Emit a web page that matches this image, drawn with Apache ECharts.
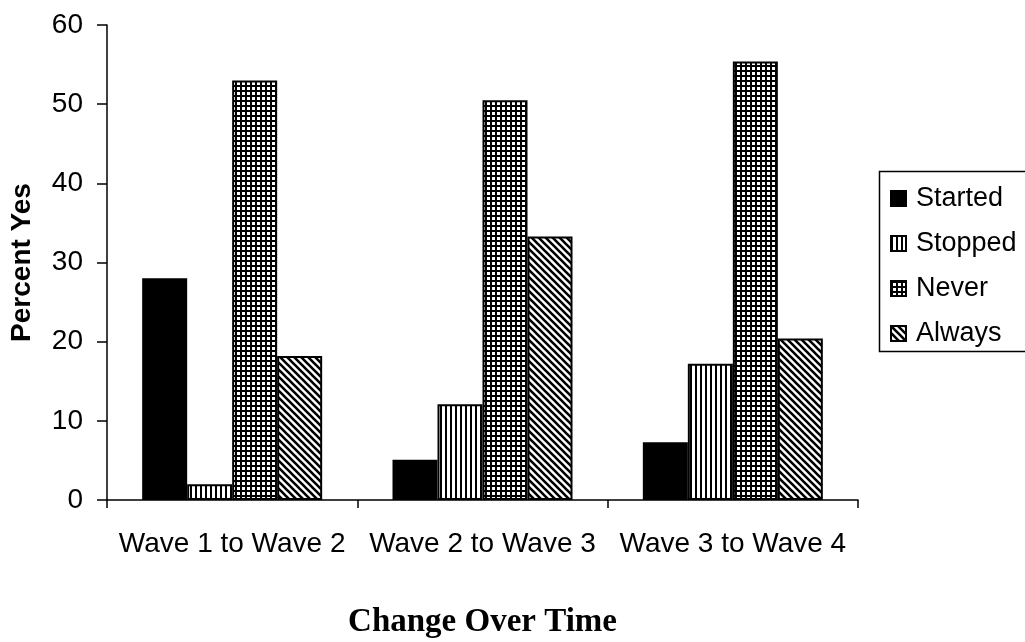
<!DOCTYPE html>
<html>
<head>
<meta charset="utf-8">
<script src="https://cdn.jsdelivr.net/npm/echarts@6/dist/echarts.min.js"></script>
<style>
html,body{margin:0;padding:0;background:#fff;}
#chart{width:1025px;height:642px;}
</style>
</head>
<body>
<div id="chart"></div>
<script>
// ---- data ----
const categories = ['Wave 1 to Wave 2', 'Wave 2 to Wave 3', 'Wave 3 to Wave 4'];
const started = [28.0, 5.1, 7.3];
const stopped = [2.0, 12.1, 17.2];
const never = [53.0, 50.5, 55.4];
const always = [18.2, 33.3, 20.4];
const seriesNames = ['Started', 'Stopped', 'Never', 'Always'];
const yTicks = { min: 0, max: 60, interval: 10 };

// ---- patterns ----
function pattern(type) {
  const c = document.createElement('canvas');
  const ctx = c.getContext('2d');
  if (type === 'solid') {
    c.width = c.height = 4; ctx.fillStyle = '#000'; ctx.fillRect(0, 0, 4, 4);
  } else if (type === 'vertical') {
    c.width = 5; c.height = 5;
    ctx.fillStyle = '#fff'; ctx.fillRect(0, 0, 5, 5);
    ctx.fillStyle = '#000'; ctx.fillRect(0, 0, 2, 5);
  } else if (type === 'grid') {
    c.width = 5; c.height = 5;
    ctx.fillStyle = '#000'; ctx.fillRect(0, 0, 5, 5);
    ctx.fillStyle = '#fff'; ctx.fillRect(2, 2, 3, 3);
  } else if (type === 'diag') {
    const s = 7;
    c.width = c.height = s;
    ctx.fillStyle = '#fff'; ctx.fillRect(0, 0, s, s);
    ctx.strokeStyle = '#000'; ctx.lineWidth = 2.6;
    ctx.beginPath();
    for (let k = -1; k <= 1; k++) {
      ctx.moveTo(k * s - 1, -1); ctx.lineTo(k * s + s + 1, s + 1);
    }
    ctx.stroke();
  }
  return { image: c, repeat: 'repeat' };
}
const fills = [pattern('solid'), pattern('vertical'), pattern('grid'), pattern('diag')];
const values = [started, stopped, never, always];

const chart = echarts.init(document.getElementById('chart'), null, { renderer: 'canvas' });
chart.setOption({
  backgroundColor: '#fff',
  animation: false,
  grid: { left: 107, right: 167, top: 25, bottom: 142, containLabel: false, outerBoundsMode: 'none' },
  legend: {
    orient: 'vertical',
    left: 885, top: 179,
    itemWidth: 15, itemHeight: 15, itemGap: 16,
    icon: 'rect',
    textStyle: { fontFamily: 'Liberation Sans', fontSize: 27, color: '#000', lineHeight: 29, padding: [0, 0, 0, 5] },
    data: seriesNames
  },
  graphic: [{
    type: 'rect', left: 877, top: 169,
    shape: { width: 200, height: 180 },
    style: { fill: 'none', stroke: '#000', lineWidth: 1.5 }
  }],
  xAxis: {
    type: 'category',
    data: categories,
    name: 'Change Over Time',
    nameLocation: 'middle',
    nameGap: 106,
    nameTextStyle: { fontFamily: 'Liberation Serif', fontWeight: 'bold', fontSize: 33, color: '#000' },
    axisLine: { lineStyle: { color: '#000', width: 1.5 } },
    axisTick: { show: true, length: 8, lineStyle: { color: '#000', width: 1.5 } },
    axisLabel: { fontFamily: 'Liberation Sans', fontSize: 28, color: '#000', margin: 30, interval: 0, hideOverlap: false }
  },
  yAxis: {
    type: 'value',
    min: yTicks.min, max: yTicks.max, interval: yTicks.interval,
    name: 'Percent Yes',
    nameLocation: 'middle',
    nameGap: 71,
    nameTextStyle: { fontFamily: 'Liberation Sans', fontWeight: 'bold', fontSize: 28, color: '#000' },
    axisLine: { show: true, lineStyle: { color: '#000', width: 1.5 } },
    axisTick: { show: true, length: 10, lineStyle: { color: '#000', width: 1.5 } },
    axisLabel: { fontFamily: 'Liberation Sans', fontSize: 28, color: '#000', margin: 24 },
    splitLine: { show: false }
  },
  series: seriesNames.map((n, i) => ({
    name: n,
    type: 'bar',
    data: values[i],
    barWidth: 45,
    barGap: '0%',
    itemStyle: { color: fills[i], borderColor: '#000', borderWidth: 2 }
  }))
});
</script>
</body>
</html>
